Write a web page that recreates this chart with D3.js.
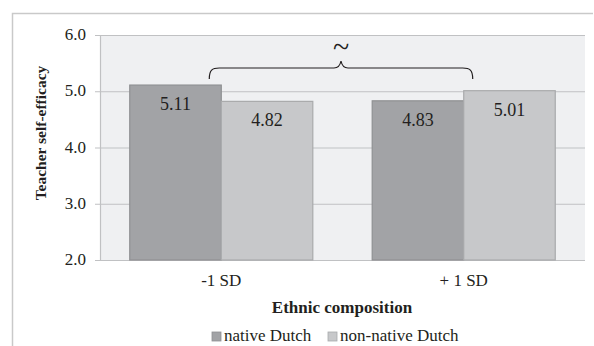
<!DOCTYPE html>
<html><head><meta charset="utf-8">
<script src="https://cdn.jsdelivr.net/npm/d3@7"></script>
<style>body{margin:0;background:#fff}svg{display:block}</style>
</head><body><svg id="c" width="594" height="346" font-family="'Liberation Serif', 'Times New Roman', Tinos, 'DejaVu Serif', serif"></svg>
<script>
const categories = ["-1 SD", "+ 1 SD"];
const seriesNames = ["native Dutch", "non-native Dutch"];
const nativeDutch = [5.11, 4.83];
const nonNativeDutch = [4.82, 5.01];
const yTicks = [2.0, 3.0, 4.0, 5.0, 6.0];
const yTitle = "Teacher self-efficacy";
const xTitle = "Ethnic composition";
const annotation = "~";

const colors = ["#a2a3a6", "#c7c8ca"];
const strokes = ["#8f9093", "#a9aaac"];
const ink = "#231f20";
const svg = d3.select("#c");
const L = 100, R = 585, T = 35, B = 260;

svg.append("path").attr("d", "M12.5,346 V13.5 H593").attr("fill","none").attr("stroke","#c9c9c9").attr("stroke-width",1.5);

const y = d3.scaleLinear().domain([2,6]).range([B,T]);
const x0 = d3.scaleBand().domain(categories).range([L,R]).paddingInner(0.245).paddingOuter(0.1227);
const x1 = d3.scaleBand().domain(seriesNames).range([0, x0.bandwidth()]);

svg.append("rect").attr("x",L).attr("y",T).attr("width",R-L).attr("height",B-T).attr("fill","#eff0f2");

svg.append("g").selectAll("line").data(yTicks).join("line")
  .attr("x1",L-5).attr("x2",R).attr("y1",d=>y(d)+0.5).attr("y2",d=>y(d)+0.5)
  .attr("stroke","#c0c1c3").attr("stroke-width",1.2);
svg.append("line").attr("x1",L+0.5).attr("x2",L+0.5).attr("y1",T).attr("y2",B).attr("stroke","#c0c1c3").attr("stroke-width",1.2);

svg.append("g").selectAll("text").data(yTicks).join("text")
  .attr("x",86).attr("y",d=>y(d)+5).attr("text-anchor","end").attr("font-size",17).attr("fill",ink)
  .text(d=>d.toFixed(1));

const data = categories.map((c,i)=>({c, vals:[nativeDutch[i], nonNativeDutch[i]]}));
const g = svg.append("g");
data.forEach(d=>{
  d.vals.forEach((v,j)=>{
    const bx = x0(d.c)+x1(seriesNames[j]);
    g.append("rect").attr("x",bx).attr("y",y(v)).attr("width",x1.bandwidth()).attr("height",B-y(v))
      .attr("fill",colors[j]).attr("stroke",strokes[j]).attr("stroke-width",1.2);
    g.append("text").attr("x",bx+x1.bandwidth()/2).attr("y",y(v)+25).attr("text-anchor","middle")
      .attr("font-size",18).attr("fill",ink).text(v.toFixed(2));
  });
});

svg.append("g").selectAll("text").data(categories).join("text")
  .attr("x",d=>x0(d)+x0.bandwidth()/2).attr("y",286).attr("text-anchor","middle").attr("font-size",17).attr("fill",ink).text(d=>d);

const xl = x0(categories[0]) + x1(seriesNames[1]) - 12;
const xr = x0(categories[1]) + x1(seriesNames[1]) + 9;
const xm = (xl+xr)/2, yb = 68, ye = 79, yp = 60;
const bp = `M${xl},${ye} C${xl},${yb+2} ${xl+3},${yb} ${xl+10},${yb} H${xm-7} C${xm-3},${yb} ${xm-1},${yb-2} ${xm},${yp+1} C${xm+1},${yb-2} ${xm+3},${yb} ${xm+7},${yb} H${xr-10} C${xr-3},${yb} ${xr},${yb+2} ${xr},${ye}`;
svg.append("path").attr("d",bp).attr("fill","none").attr("stroke",ink).attr("stroke-width",1.2);
svg.append("text").attr("x",xm).attr("y",57).attr("text-anchor","middle").attr("font-size",30).attr("fill",ink).text(annotation);

svg.append("text").attr("transform","translate(46,133) rotate(-90)").attr("text-anchor","middle")
  .attr("font-size",15.5).attr("font-weight","bold").attr("fill",ink).text(yTitle);
svg.append("text").attr("x",342).attr("y",313).attr("text-anchor","middle")
  .attr("font-size",17).attr("font-weight","bold").attr("fill",ink).text(xTitle);

const lg = svg.append("g");
const lx = [212, 328];
seriesNames.forEach((s,j)=>{
  lg.append("rect").attr("x",lx[j]).attr("y",332).attr("width",9).attr("height",9).attr("fill",colors[j]).attr("stroke",strokes[j]).attr("stroke-width",0.8);
  lg.append("text").attr("x",lx[j]+12).attr("y",341).attr("font-size",17).attr("fill",ink).text(s);
});
</script></body></html>
